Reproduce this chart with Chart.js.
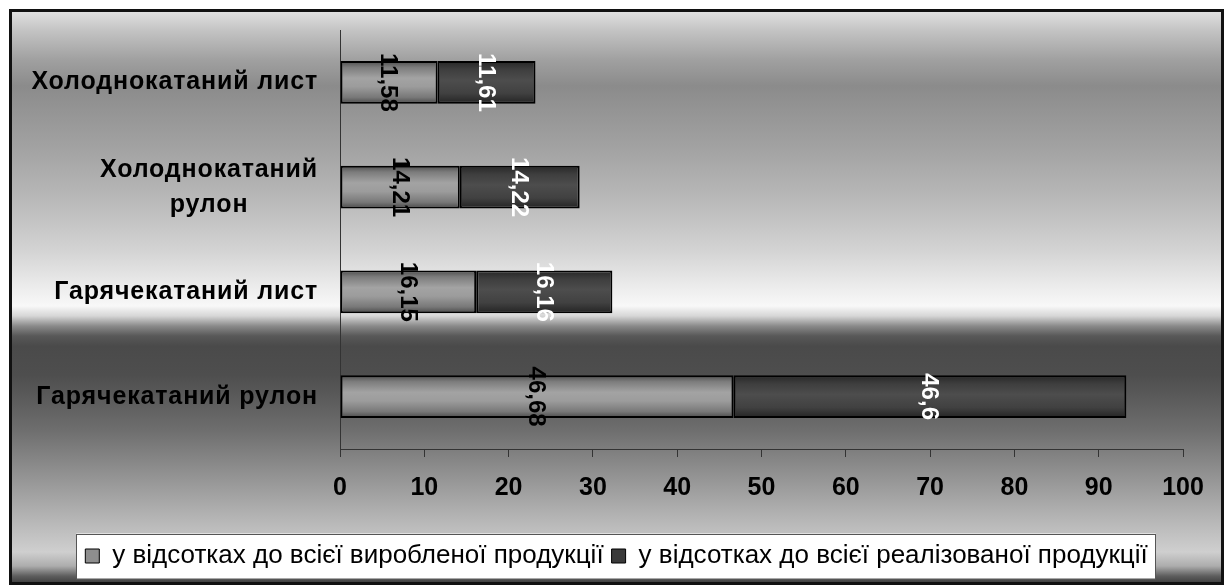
<!DOCTYPE html>
<html>
<head>
<meta charset="utf-8">
<script src="https://cdn.jsdelivr.net/npm/chart.js@4.4.1/dist/chart.umd.min.js"></script>
<style>
  html, body { margin: 0; padding: 0; background: #fff; }
  #wrap { width: 1227px; height: 586px; }
</style>
</head>
<body>
<div id="wrap"><canvas id="chart" width="1227" height="586"></canvas></div>
<script>
// Product categories (top to bottom), multi-line where the label wraps
const categories = [
  ['Холоднокатаний лист'],
  ['Холоднокатаний', 'рулон'],
  ['Гарячекатаний лист'],
  ['Гарячекатаний рулон']
];
const seriesNames = [
  'у відсотках до всієї виробленої продукції',
  'у відсотках до всієї реалізованої продукції'
];
const producedShare = [11.58, 14.21, 16.15, 46.68];
const soldShare = [11.61, 14.22, 16.16, 46.6];
const xMin = 0, xMax = 100, xStep = 10;

const FONT = '"Liberation Sans", Arial, sans-serif';
const CAT_PCT = 0.82, BAR_PCT = 0.5;

const producedStops = [[0, '#4c4c4c'], [0.15, '#7c7c7c'], [0.4, '#a3a3a3'], [0.6, '#9c9c9c'], [0.85, '#787878'], [1, '#474747']];
const soldStops = [[0, '#262626'], [0.2, '#3e3e3e'], [0.45, '#4d4d4d'], [0.75, '#414141'], [1, '#232323']];
const labelColors = ['#000000', '#ffffff'];

// vertical shading inside every bar, following the bar's own position
function barGradient(stops, fallback) {
  return (c) => {
    const chart = c.chart;
    const y = chart.scales && chart.scales.y;
    if (!y || !chart.chartArea || c.type !== 'data') return fallback;
    const mid = y.getPixelForValue(c.dataIndex);
    const half = (y.height / categories.length) * CAT_PCT * BAR_PCT / 2;
    const g = chart.ctx.createLinearGradient(0, mid - half, 0, mid + half);
    stops.forEach(([o, col]) => g.addColorStop(o, col));
    return g;
  };
}

// metallic backdrop, frame and white legend panel
const backdrop = {
  id: 'backdrop',
  afterLayout(chart) {
    // centre the legend row under the whole frame rather than the padded area
    const lg = chart.legend;
    if (lg) { lg.left += 25; lg.right += 25; }
  },
  beforeDraw(chart) {
    const ctx = chart.ctx;
    const W = chart.width, H = chart.height;
    ctx.save();
    ctx.fillStyle = '#ffffff';
    ctx.fillRect(0, 0, W, H);
    const top = 10, bottom = H - 2;
    const g = ctx.createLinearGradient(0, top, 0, bottom);
    const bands = [
      [10, '#e2e2e2'], [30, '#c4c4c4'], [60, '#a0a0a0'], [86, '#8b8b8b'], [150, '#a3a3a3'],
      [200, '#b9b9b9'], [250, '#d3d3d3'], [290, '#eeeeee'], [306, '#f8f8f8'], [316, '#d6d6d6'],
      [326, '#8a8a8a'], [336, '#585858'], [346, '#4a4a4a'], [375, '#4e4e4e'], [400, '#5c5c5c'],
      [430, '#6e6e6e'], [480, '#969696'], [520, '#b6b6b6'], [552, '#cfcfcf'], [566, '#adadad'],
      [576, '#5e5e5e'], [584, '#3a3a3a']
    ];
    bands.forEach(([py, col]) => g.addColorStop(Math.min(1, Math.max(0, (py - top) / (bottom - top))), col));
    ctx.fillStyle = g;
    ctx.fillRect(10, top, W - 14, bottom - top);
    ctx.strokeStyle = '#111111';
    ctx.lineWidth = 3;
    ctx.strokeRect(10.5, 10.5, W - 15, H - 13);

    const lg = chart.legend;
    if (lg && lg.legendHitBoxes && lg.legendHitBoxes.length) {
      const hb = lg.legendHitBoxes;
      const l = Math.min(...hb.map(b => b.left)) - 9;
      const r = Math.max(...hb.map(b => b.left + b.width)) + 8;
      const cy = hb[0].top + hb[0].height / 2;
      ctx.fillStyle = '#ffffff';
      ctx.fillRect(l, cy - 22.5, r - l, 45);
      ctx.strokeStyle = '#555555';
      ctx.lineWidth = 1;
      ctx.strokeRect(Math.round(l) + 0.5, Math.round(cy - 22.5) + 0.5, Math.round(r - l), 45);
    }
    ctx.restore();
  }
};

// category names: block right-aligned to the axis, lines centred within the block
const categoryLabels = {
  id: 'categoryLabels',
  afterDraw(chart) {
    const ctx = chart.ctx;
    const y = chart.scales.y;
    const right = y.right - 22;
    const lh = 35;
    ctx.save();
    ctx.font = 'bold 25px ' + FONT;
    if ('letterSpacing' in ctx) ctx.letterSpacing = '0.85px';
    ctx.fillStyle = '#000000';
    ctx.textAlign = 'center';
    ctx.textBaseline = 'middle';
    categories.forEach((lines, i) => {
      const mid = y.getPixelForValue(i);
      const blockW = Math.max(...lines.map(t => ctx.measureText(t).width));
      const cx = right - blockW / 2;
      const y0 = mid - (lines.length - 1) * lh / 2;
      lines.forEach((t, k) => ctx.fillText(t, cx, y0 + k * lh));
    });
    ctx.restore();
  }
};

// rotated value labels in the middle of each segment
const valueLabels = {
  id: 'valueLabels',
  afterDatasetsDraw(chart) {
    const ctx = chart.ctx;
    chart.data.datasets.forEach((ds, di) => {
      const meta = chart.getDatasetMeta(di);
      meta.data.forEach((bar, i) => {
        const cx = (bar.x + bar.base) / 2;
        ctx.save();
        ctx.translate(cx, bar.y);
        ctx.rotate(Math.PI / 2);
        ctx.font = 'bold 24px ' + FONT;
        ctx.fillStyle = labelColors[di];
        ctx.textAlign = 'center';
        ctx.textBaseline = 'middle';
        ctx.fillText(String(ds.data[i]).replace('.', ','), 0, 1);
        ctx.restore();
      });
    });
  }
};

const legendFills = ['#8e8e8e', '#3a3a3a'];

new Chart(document.getElementById('chart'), {
  type: 'bar',
  data: {
    labels: categories,
    datasets: [
      {
        label: seriesNames[0],
        data: producedShare,
        backgroundColor: barGradient(producedStops, '#8e8e8e'),
        borderColor: '#000000',
        borderWidth: 2,
        borderSkipped: false,
        categoryPercentage: CAT_PCT,
        barPercentage: BAR_PCT
      },
      {
        label: seriesNames[1],
        data: soldShare,
        backgroundColor: barGradient(soldStops, '#3a3a3a'),
        borderColor: '#000000',
        borderWidth: 2,
        borderSkipped: false,
        categoryPercentage: CAT_PCT,
        barPercentage: BAR_PCT
      }
    ]
  },
  options: {
    indexAxis: 'y',
    responsive: false,
    animation: false,
    devicePixelRatio: 1,
    layout: { padding: { top: 30, right: 44, bottom: 7, left: 0 } },
    scales: {
      x: {
        stacked: true,
        min: xMin,
        max: xMax,
        ticks: {
          stepSize: xStep,
          color: '#000000',
          padding: 16,
          font: { family: FONT, size: 25, weight: 'bold' },
          maxRotation: 0
        },
        grid: { display: true, drawOnChartArea: false, drawTicks: true, tickLength: 8, color: '#333333', lineWidth: 1 },
        border: { display: true, color: '#333333', width: 1 },
        afterFit(scale) { scale.height = 86; }
      },
      y: {
        stacked: true,
        ticks: { display: false },
        grid: { display: false, drawTicks: false },
        border: { display: true, color: '#333333', width: 1 },
        afterFit(scale) { scale.width = 340; }
      }
    },
    plugins: {
      legend: {
        position: 'bottom',
        labels: {
          color: '#000000',
          font: { family: FONT, size: 26 },
          boxWidth: 14,
          boxHeight: 14,
          padding: 8,
          generateLabels(chart) {
            return chart.data.datasets.map((ds, i) => ({
              text: ds.label,
              fillStyle: legendFills[i],
              strokeStyle: '#000000',
              lineWidth: 1,
              hidden: false,
              datasetIndex: i
            }));
          }
        }
      },
      tooltip: { enabled: false }
    }
  },
  plugins: [backdrop, valueLabels, categoryLabels]
});
</script>
</body>
</html>
